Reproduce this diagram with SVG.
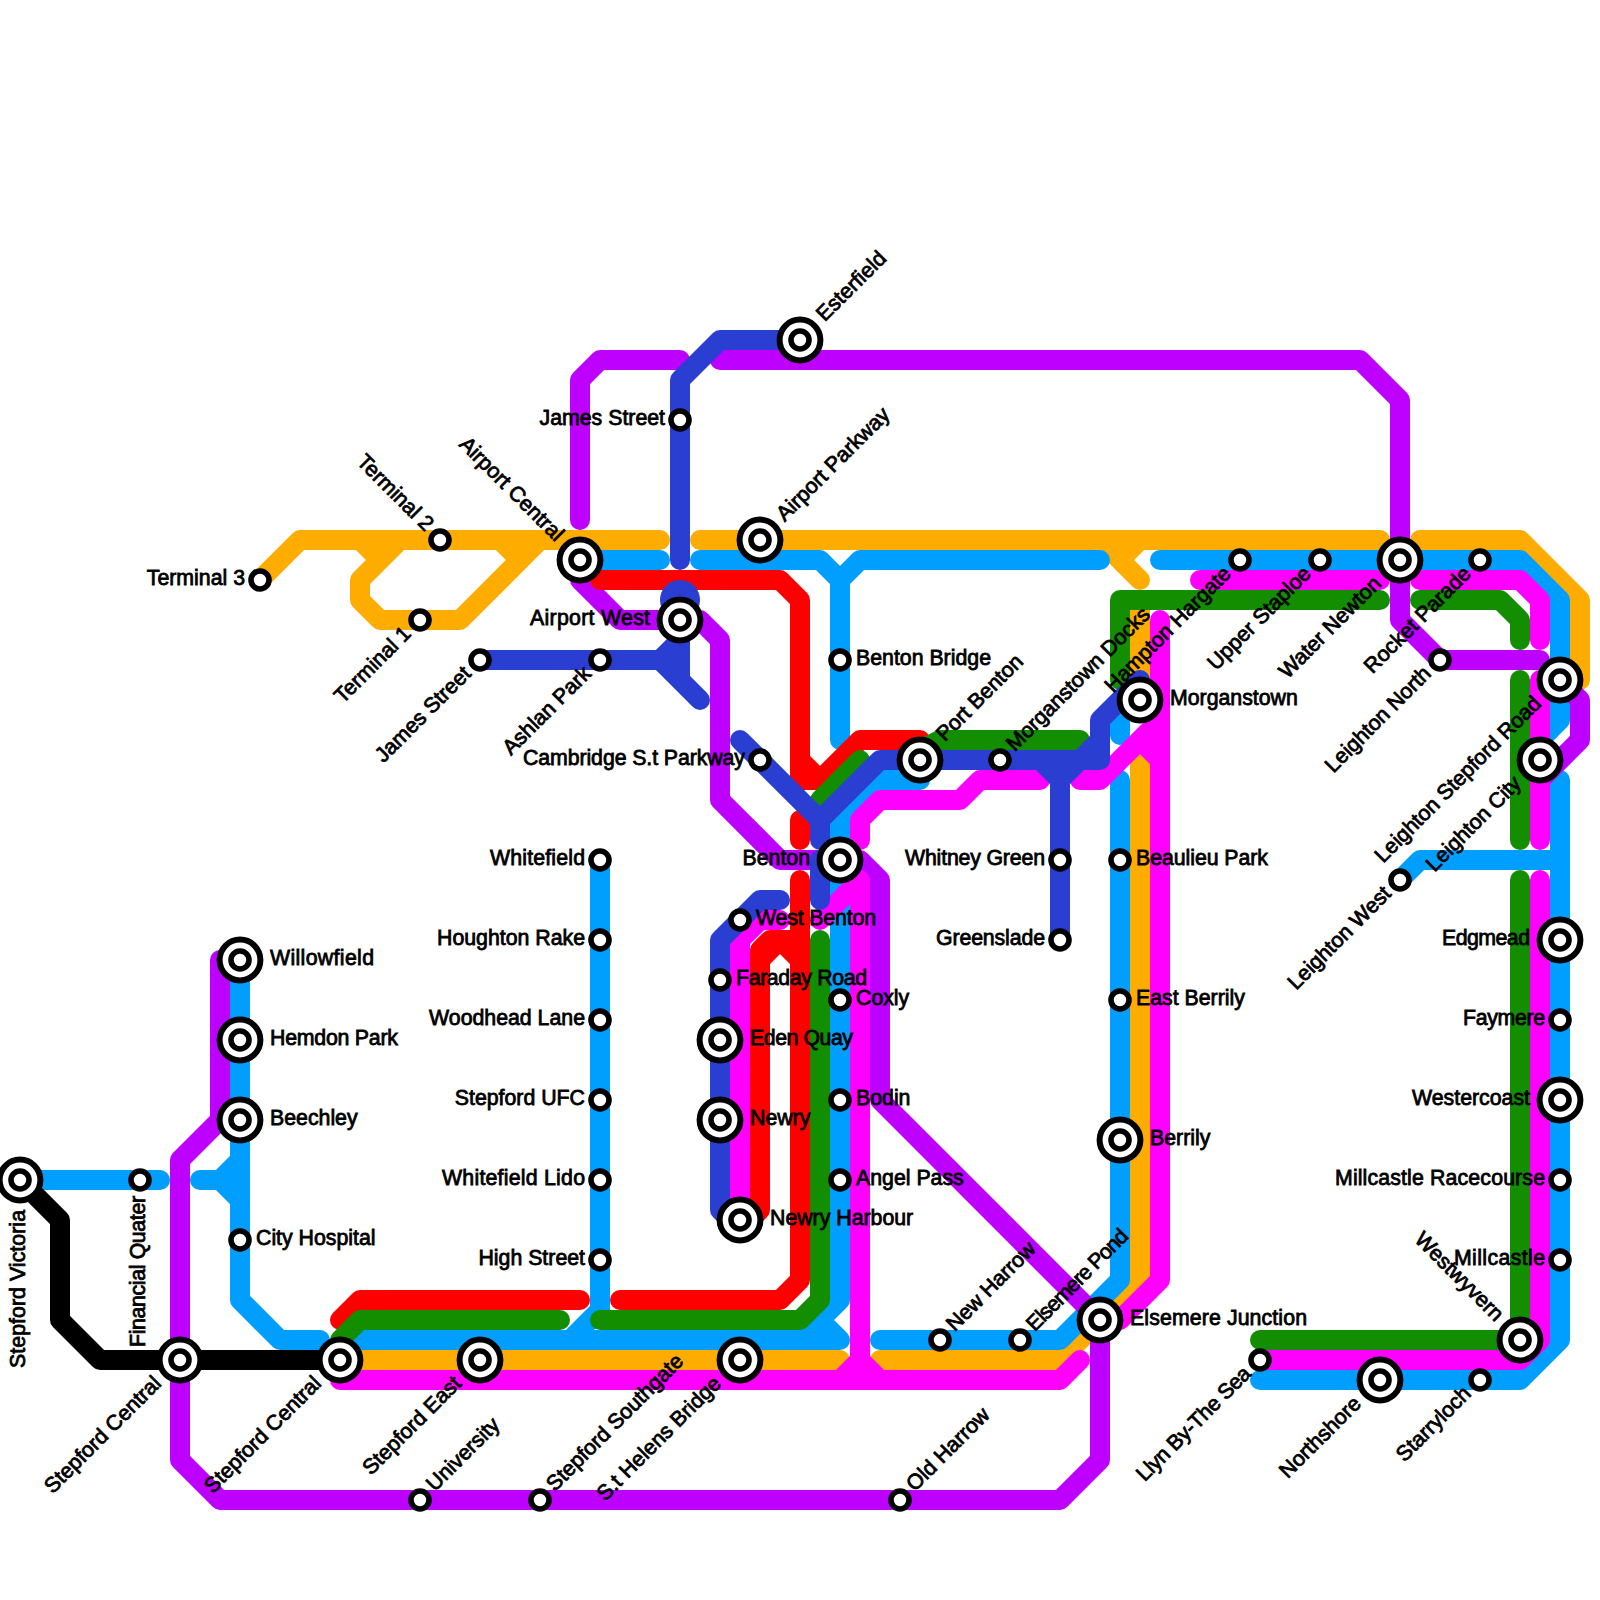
<svg xmlns="http://www.w3.org/2000/svg" width="1600" height="1600" viewBox="0 0 1600 1600">
<style>
.l{fill:none;stroke-width:20;stroke-linecap:round;stroke-linejoin:round}
.or{stroke:#ffac00}.bl{stroke:#009fff}.pu{stroke:#bd00ff}.re{stroke:#ff0000}.gr{stroke:#128e00}.ma{stroke:#ff00ff}.da{stroke:#2b3ed2}.bk{stroke:#000}
.s circle{fill:#fff;stroke:#000}
.o{stroke-width:6}.i{stroke-width:5.6}
text{font-family:"Liberation Sans",Arial,sans-serif;font-size:21.3px;fill:#000;stroke:#000;stroke-width:.8}
.e{text-anchor:end}
</style>
<defs>
<g id="sm" class="s"><circle r="9" class="i"/></g>
<g id="bg" class="s"><circle r="20.4" class="o"/><circle r="9" class="i"/></g>
</defs>
<g id="connectors">
<path class="l or" d="M260 580L300 540H660M360 540L380 560M400 540L360 580V600L380 620H460L540 540M500 540L520 560"/>
<path class="l or" d="M700 540H1380M1100 540L1140 580M1140 540L1120 560M1140 610V700M1420 540H1520L1580 600V680M1140 740V1280L1060 1360H880M340 1360H840"/>
<path class="l bl" d="M20 1180H160M200 1180H220L240 1160M220 1180L240 1200M240 960V1300L280 1340H320M360 1340H840M840 820V1300L800 1340M820 1320L840 1340M840 820L880 780H920M600 860V1310L570 1340"/>
<path class="l bl" d="M580 560H660M700 560H820L840 580L860 560H1100M840 580V740M1160 560H1520L1560 600V720L1540 740M1560 780V1340L1520 1380H1260M1400 880L1420 860H1560M1120 720V735M1120 780V1280L1060 1340H880"/>
<path class="l pu" d="M580 520V380L600 360H680M720 360H1360L1400 400V620L1440 660H1540M1560 680L1580 700V740L1540 780M580 580L620 620H700L720 640V800L780 860H860L880 880V1100L1100 1320V1460L1060 1500H220L180 1460V1160L220 1120V960"/>
<path class="l re" d="M600 580H780L800 600V760L820 780L860 740H920M800 760V780H820M800 820V840M800 880V1280L780 1300H620M760 1210V950L770 940H790L800 950M760 960L780 940L800 960M760 1210L750 1220M340 1320L360 1300H580"/>
<path class="l gr" d="M340 1340L360 1320H560M600 1320H800L820 1300V940M820 800L860 760M920 750L940 740H1080M1120 680V600H1380M1420 600H1500L1520 620V640M1520 680V840M1520 880V1340H1260"/>
<path class="l ma" d="M340 1380H1060L1080 1360M860 880V1380M860 1360L840 1380M860 1360L880 1380M820 920L860 880M740 1200V940L760 920H780M860 840V820L880 800H960L980 780H1040M1080 780H1100L1160 720M1140 740L1160 760M1160 620V1280L1120 1320M1200 580H1380M1420 580H1520L1540 600V640M1540 680V840M1540 880V1340L1520 1360H1260"/>
<path class="l da" d="M680 560V380L720 340H800M480 660H660L680 640V680L700 700M660 660L680 680M740 740L820 820V840M820 820L880 760H1100V720L1140 680M1080 760L1100 740M1040 760L1060 780L1080 760M1060 780V940M820 860V900M780 900H760L720 940V1210L730 1220H740"/>
<circle cx="680" cy="600" r="20" fill="#2b3ed2"/>
<path class="l bk" d="M20 1180L60 1220V1320L100 1360H340"/>
</g>
<g id="st-stepford-victoria"><use href="#bg" x="20" y="1180"/><text transform="translate(20 1180) rotate(-90)" x="-30" y="5" class="e" textLength="158">Stepford Victoria</text></g>
<g id="st-financial-quater"><use href="#sm" x="140" y="1180"/><text transform="translate(140 1180) rotate(-90)" x="-16" y="5" class="e" textLength="151">Financial Quater</text></g>
<g id="st-stepford-central-1"><use href="#bg" x="180" y="1360"/><text transform="translate(180 1360) rotate(-45)" x="-30" y="5" class="e">Stepford Central</text></g>
<g id="st-stepford-central-2"><use href="#bg" x="340" y="1360"/><text transform="translate(340 1360) rotate(-45)" x="-30" y="5" class="e">Stepford Central</text></g>
<g id="st-stepford-east"><use href="#bg" x="480" y="1360"/><text transform="translate(480 1360) rotate(-45)" x="-30" y="5" class="e">Stepford East</text></g>
<g id="st-helens-bridge"><use href="#bg" x="740" y="1360"/><text transform="translate(740 1360) rotate(-45)" x="-30" y="5" class="e">S.t Helens Bridge</text></g>
<g id="st-university"><use href="#sm" x="420" y="1500"/><text transform="translate(420 1500) rotate(-45)" x="16" y="5">University</text></g>
<g id="st-stepford-southgate"><use href="#sm" x="540" y="1500"/><text transform="translate(540 1500) rotate(-45)" x="16" y="5">Stepford Southgate</text></g>
<g id="st-old-harrow"><use href="#sm" x="900" y="1500"/><text transform="translate(900 1500) rotate(-45)" x="16" y="5">Old Harrow</text></g>
<g id="st-willowfield"><use href="#bg" x="240" y="960"/><text x="270" y="965" textLength="104">Willowfield</text></g>
<g id="st-hemdon-park"><use href="#bg" x="240" y="1040"/><text x="270" y="1045" textLength="128">Hemdon Park</text></g>
<g id="st-beechley"><use href="#bg" x="240" y="1120"/><text x="270" y="1125">Beechley</text></g>
<g id="st-city-hospital"><use href="#sm" x="240" y="1240"/><text x="256" y="1245">City Hospital</text></g>
<g id="st-whitefield"><use href="#sm" x="600" y="860"/><text x="585" y="865" class="e" textLength="95">Whitefield</text></g>
<g id="st-houghton-rake"><use href="#sm" x="600" y="940"/><text x="585" y="945" class="e">Houghton Rake</text></g>
<g id="st-woodhead-lane"><use href="#sm" x="600" y="1020"/><text x="585" y="1025" class="e">Woodhead Lane</text></g>
<g id="st-stepford-ufc"><use href="#sm" x="600" y="1100"/><text x="585" y="1105" class="e">Stepford UFC</text></g>
<g id="st-whitefield-lido"><use href="#sm" x="600" y="1180"/><text x="585" y="1185" class="e" textLength="143">Whitefield Lido</text></g>
<g id="st-high-street"><use href="#sm" x="600" y="1260"/><text x="585" y="1265" class="e">High Street</text></g>
<g id="st-terminal-3"><use href="#sm" x="260" y="580"/><text x="245" y="585" class="e">Terminal 3</text></g>
<g id="st-terminal-2"><use href="#sm" x="440" y="540"/><text transform="translate(440 540) rotate(45)" x="-16" y="5" class="e">Terminal 2</text></g>
<g id="st-terminal-1"><use href="#sm" x="420" y="620"/><text transform="translate(420 620) rotate(-45)" x="-16" y="5" class="e">Terminal 1</text></g>
<g id="st-james-street-1"><use href="#sm" x="480" y="660"/><text transform="translate(480 660) rotate(-45)" x="-16" y="5" class="e">James Street</text></g>
<g id="st-ashlan-park"><use href="#sm" x="600" y="660"/><text transform="translate(600 660) rotate(-45)" x="-16" y="5" class="e">Ashlan Park</text></g>
<g id="st-airport-central"><use href="#bg" x="580" y="560"/><text transform="translate(580 560) rotate(45)" x="-30" y="5" class="e">Airport Central</text></g>
<g id="st-airport-west"><use href="#bg" x="680" y="620"/><text x="650" y="625" class="e" textLength="120">Airport West</text></g>
<g id="st-james-street-2"><use href="#sm" x="680" y="420"/><text x="665" y="425" class="e">James Street</text></g>
<g id="st-esterfield"><use href="#bg" x="800" y="340"/><text transform="translate(800 340) rotate(-45)" x="30" y="5">Esterfield</text></g>
<g id="st-airport-parkway"><use href="#bg" x="760" y="540"/><text transform="translate(760 540) rotate(-45)" x="30" y="5">Airport Parkway</text></g>
<g id="st-cambridge"><use href="#sm" x="760" y="760"/><text x="745" y="765" class="e" textLength="222">Cambridge S.t Parkway</text></g>
<g id="st-benton"><use href="#bg" x="840" y="860"/><text x="810" y="865" class="e">Benton</text></g>
<g id="st-west-benton"><use href="#sm" x="740" y="920"/><text x="756" y="925" textLength="120">West Benton</text></g>
<g id="st-faraday-road"><use href="#sm" x="720" y="980"/><text x="736" y="985" textLength="131">Faraday Road</text></g>
<g id="st-eden-quay"><use href="#bg" x="720" y="1040"/><text x="750" y="1045" textLength="103">Eden Quay</text></g>
<g id="st-newry"><use href="#bg" x="720" y="1120"/><text x="750" y="1125">Newry</text></g>
<g id="st-newry-harbour"><use href="#bg" x="740" y="1220"/><text x="770" y="1225">Newry Harbour</text></g>
<g id="st-coxly"><use href="#sm" x="840" y="1000"/><text x="856" y="1005">Coxly</text></g>
<g id="st-bodin"><use href="#sm" x="840" y="1100"/><text x="856" y="1105">Bodin</text></g>
<g id="st-angel-pass"><use href="#sm" x="840" y="1180"/><text x="856" y="1185">Angel Pass</text></g>
<g id="st-benton-bridge"><use href="#sm" x="840" y="660"/><text x="856" y="665">Benton Bridge</text></g>
<g id="st-port-benton"><use href="#bg" x="920" y="760"/><text transform="translate(920 760) rotate(-45)" x="30" y="5">Port Benton</text></g>
<g id="st-morganstown-docks"><use href="#sm" x="1000" y="760"/><text transform="translate(1000 760) rotate(-45)" x="16" y="5">Morganstown Docks</text></g>
<g id="st-whitney-green"><use href="#sm" x="1060" y="860"/><text x="1045" y="865" class="e" textLength="140">Whitney Green</text></g>
<g id="st-greenslade"><use href="#sm" x="1060" y="940"/><text x="1045" y="945" class="e" textLength="109">Greenslade</text></g>
<g id="st-beaulieu-park"><use href="#sm" x="1120" y="860"/><text x="1136" y="865" textLength="132">Beaulieu Park</text></g>
<g id="st-east-berrily"><use href="#sm" x="1120" y="1000"/><text x="1136" y="1005">East Berrily</text></g>
<g id="st-berrily"><use href="#bg" x="1120" y="1140"/><text x="1150" y="1145">Berrily</text></g>
<g id="st-elsemere-junction"><use href="#bg" x="1100" y="1320"/><text x="1130" y="1325" textLength="177">Elsemere Junction</text></g>
<g id="st-elsemere-pond"><use href="#sm" x="1020" y="1340"/><text transform="translate(1020 1340) rotate(-45)" x="16" y="5" textLength="134">Elsemere Pond</text></g>
<g id="st-new-harrow"><use href="#sm" x="940" y="1340"/><text transform="translate(940 1340) rotate(-45)" x="16" y="5" textLength="116">New Harrow</text></g>
<g id="st-morganstown"><use href="#bg" x="1140" y="700"/><text x="1170" y="705">Morganstown</text></g>
<g id="st-hampton-hargate"><use href="#sm" x="1240" y="560"/><text transform="translate(1240 560) rotate(-45)" x="-16" y="5" class="e">Hampton Hargate</text></g>
<g id="st-upper-staploe"><use href="#sm" x="1320" y="560"/><text transform="translate(1320 560) rotate(-45)" x="-16" y="5" class="e">Upper Staploe</text></g>
<g id="st-water-newton"><use href="#bg" x="1400" y="560"/><text transform="translate(1400 560) rotate(-45)" x="-30" y="5" class="e">Water Newton</text></g>
<g id="st-rocket-parade"><use href="#sm" x="1480" y="560"/><text transform="translate(1480 560) rotate(-45)" x="-16" y="5" class="e">Rocket Parade</text></g>
<g id="st-leighton-north"><use href="#sm" x="1440" y="660"/><text transform="translate(1440 660) rotate(-45)" x="-16" y="5" class="e">Leighton North</text></g>
<g id="st-leighton-stepford-road"><use href="#bg" x="1560" y="680"/><text transform="translate(1560 680) rotate(-45)" x="-30" y="5" class="e">Leighton Stepford Road</text></g>
<g id="st-leighton-city"><use href="#bg" x="1540" y="760"/><text transform="translate(1540 760) rotate(-45)" x="-30" y="5" class="e">Leighton City</text></g>
<g id="st-leighton-west"><use href="#sm" x="1400" y="880"/><text transform="translate(1400 880) rotate(-45)" x="-16" y="5" class="e">Leighton West</text></g>
<g id="st-edgmead"><use href="#bg" x="1560" y="940"/><text x="1530" y="945" class="e" textLength="88">Edgmead</text></g>
<g id="st-faymere"><use href="#sm" x="1560" y="1020"/><text x="1545" y="1025" class="e" textLength="82">Faymere</text></g>
<g id="st-westercoast"><use href="#bg" x="1560" y="1100"/><text x="1530" y="1105" class="e">Westercoast</text></g>
<g id="st-millcastle-racecourse"><use href="#sm" x="1560" y="1180"/><text x="1545" y="1185" class="e" textLength="210">Millcastle Racecourse</text></g>
<g id="st-millcastle"><use href="#sm" x="1560" y="1260"/><text x="1545" y="1265" class="e" textLength="91">Millcastle</text></g>
<g id="st-westwyvern"><use href="#bg" x="1520" y="1340"/><text transform="translate(1520 1340) rotate(45)" x="-30" y="5" class="e">Westwyvern</text></g>
<g id="st-llyn"><use href="#sm" x="1260" y="1360"/><text transform="translate(1260 1360) rotate(-45)" x="-16" y="5" class="e" textLength="152">Llyn By-The Sea</text></g>
<g id="st-northshore"><use href="#bg" x="1380" y="1380"/><text transform="translate(1380 1380) rotate(-45)" x="-30" y="5" class="e">Northshore</text></g>
<g id="st-starryloch"><use href="#sm" x="1480" y="1380"/><text transform="translate(1480 1380) rotate(-45)" x="-16" y="5" class="e">Starryloch</text></g>
</svg>
